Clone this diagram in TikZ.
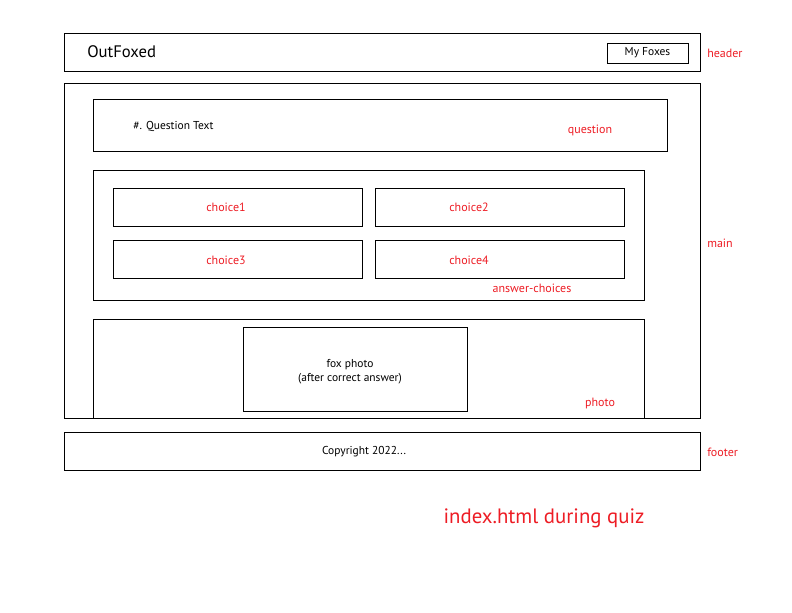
\documentclass[tikz,border=0pt]{standalone}
\usepackage{fontspec}
\setmainfont{PT Sans}
\definecolor{lblred}{RGB}{237,28,36}
\tikzset{
  box/.style={draw=black, line width=0.7pt},
  lbl/.style={text=lblred, font=\fontsize{9}{10}\selectfont, inner sep=0pt},
  txt/.style={text=black, font=\fontsize{8.6}{10}\selectfont, inner sep=0pt, align=center},
}
\begin{document}
\begin{tikzpicture}[x=0.75pt, y=-0.75pt]
\useasboundingbox (0,0) rectangle (792,612);
% header
\draw[box] (64,33) rectangle (700,71);
\node[txt, font=\fontsize{12.5}{14}\selectfont, anchor=west] (title) at (87,52) {OutFoxed};
\draw[box] (607,43) rectangle (688,63);
\node[txt] (myfoxes) at (647.5,53) {My Foxes};
\node[lbl, anchor=west] (header) at (707,53) {header};
% main
\draw[box] (64,83) rectangle (700,418);
\node[lbl, anchor=west] (main) at (707,243) {main};
% question
\draw[box] (93,99) rectangle (667,151);
\node[txt, anchor=west] (qtext) at (133,126) {\#. Question Text};
\node[lbl] (question) at (590,130) {question};
% answer choices
\draw[box] (93,170) rectangle (644,300);
\draw[box] (113,188) rectangle (362,226);
\node[lbl] (c1) at (226,207) {choice1};
\draw[box] (375,188) rectangle (624,226);
\node[lbl] (c2) at (469,207) {choice2};
\draw[box] (113,240) rectangle (362,278);
\node[lbl] (c3) at (226,260) {choice3};
\draw[box] (375,240) rectangle (624,278);
\node[lbl] (c4) at (469,260) {choice4};
\node[lbl] (ac) at (532,288) {answer-choices};
% photo
\draw[box] (93,418) -- (93,319) -- (644,319) -- (644,418);
\draw[box] (243,327) rectangle (467,411);
\node[txt] (fox1) at (350,365) {fox photo};
\node[txt] (fox2) at (350,379) {(after correct answer)};
\node[lbl] (photo) at (600,403) {photo};
% footer
\draw[box] (64,432) rectangle (700,470);
\node[txt] (copy) at (364,452) {Copyright 2022...};
\node[lbl, anchor=west] (footer) at (707,452) {footer};
% caption
\node[lbl, font=\fontsize{15.6}{17}\selectfont] (caption) at (544,518) {index.html during quiz};
\end{tikzpicture}
\end{document}
